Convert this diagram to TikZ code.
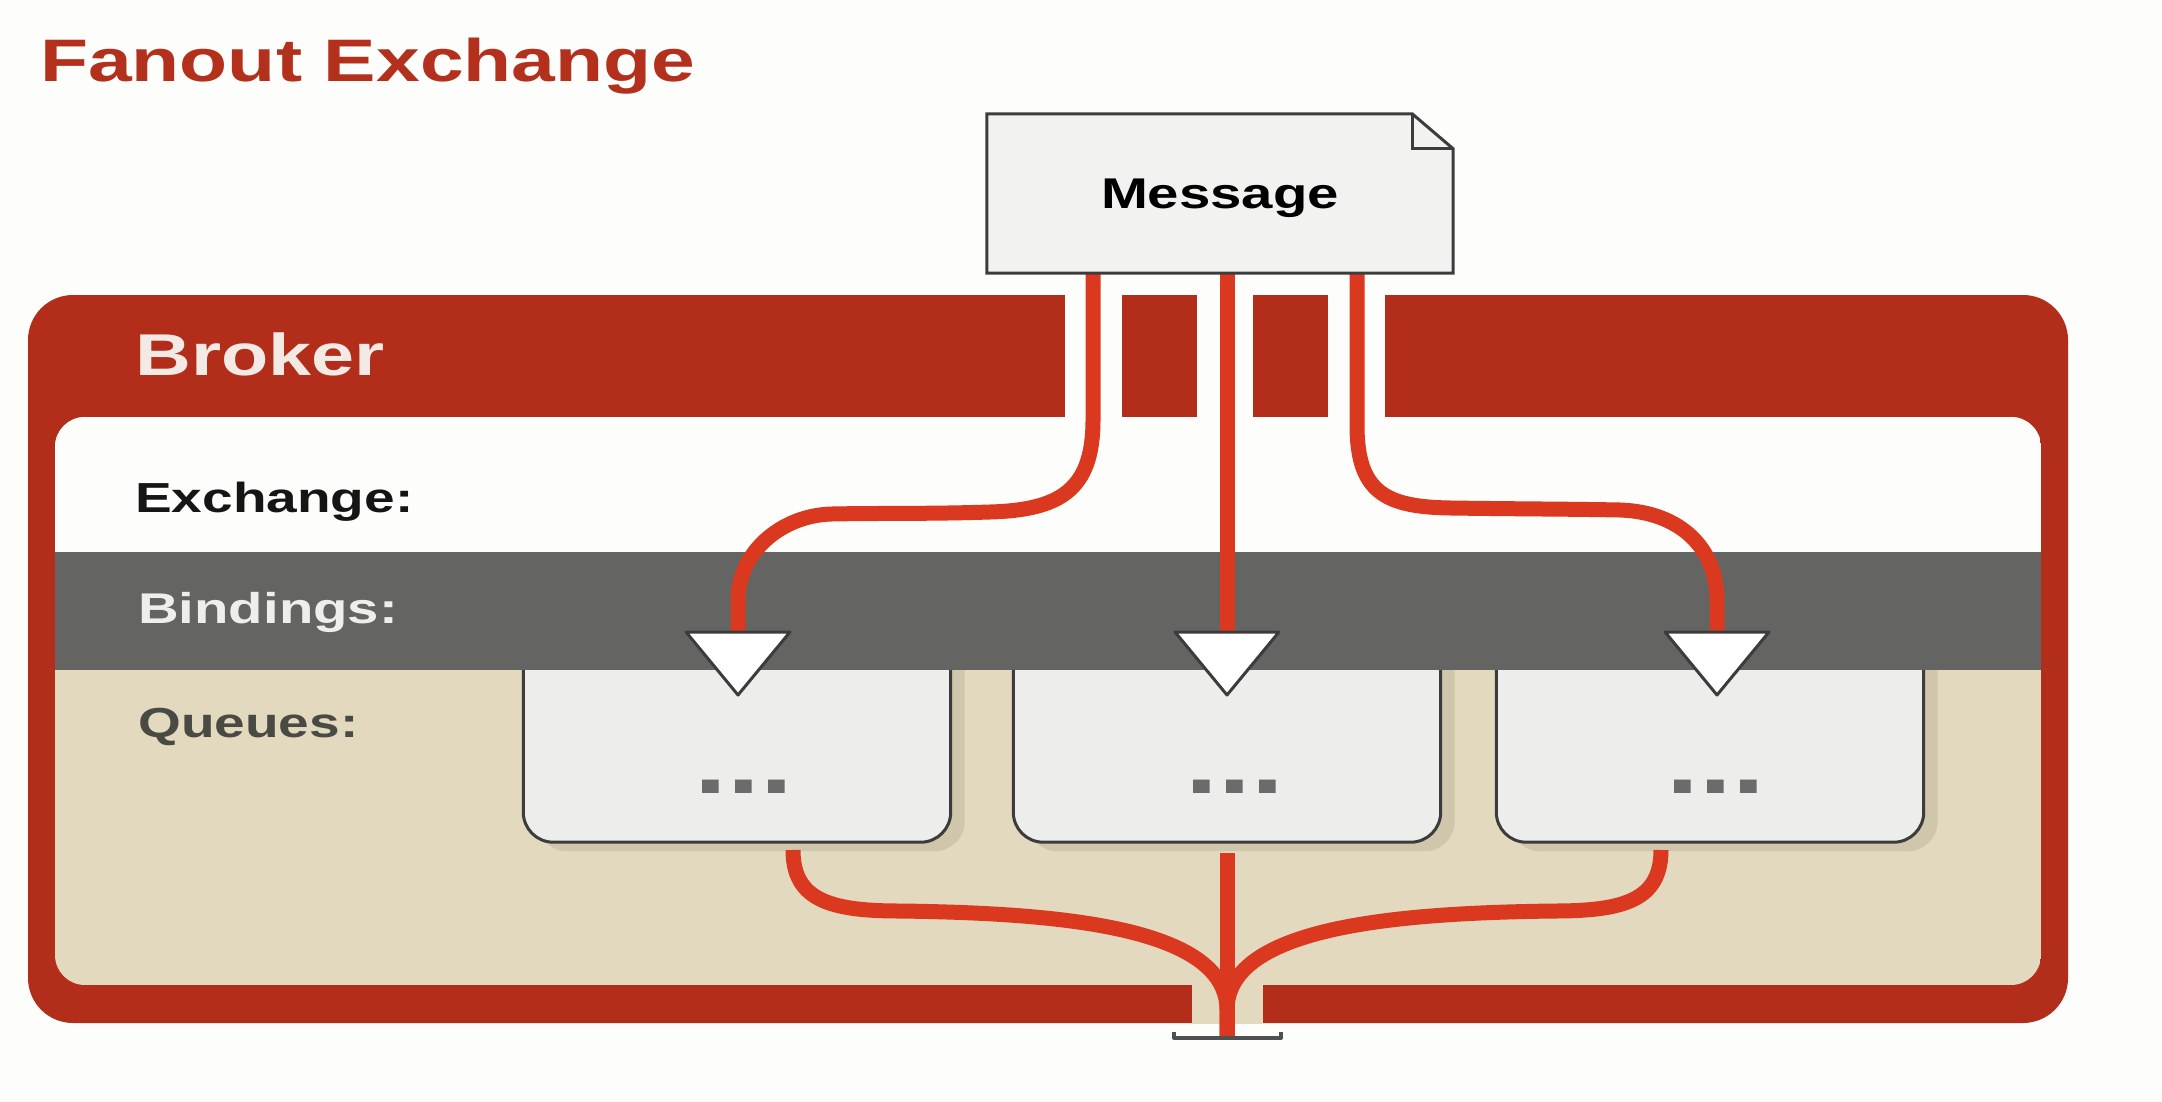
\documentclass[tikz,border=0pt]{standalone}
\usepackage{fontspec}
\setmainfont{Liberation Sans}
\usepackage{graphicx}
\usetikzlibrary{calc}
\definecolor{bg}{HTML}{FDFDFB}
\definecolor{brokerred}{HTML}{B22E1A}
\definecolor{flowred}{HTML}{DA3920}
\definecolor{titlered}{HTML}{B3301C}
\definecolor{tanfill}{HTML}{E2D9BE}
\definecolor{bandgray}{HTML}{646563}
\definecolor{qfill}{HTML}{EDEDEB}
\definecolor{qborder}{HTML}{3C3C3C}
\definecolor{shadowtan}{HTML}{CFC6AB}
\definecolor{msgfill}{HTML}{F2F3F1}
\definecolor{dotgray}{HTML}{6B6B6B}
\definecolor{brokertext}{HTML}{F3E9E5}
\definecolor{bindtext}{HTML}{EEEEEC}
\definecolor{queuetext}{HTML}{4A4A45}
\definecolor{exchtext}{HTML}{151515}
\newcommand\stretchtxt[1]{\scalebox{1.31}[1]{#1}}
\begin{document}
\begin{tikzpicture}[x=1pt,y=-1pt,
  lbl/.style={anchor=base west, inner sep=0pt},
  qnode/.style={draw=none, inner sep=0pt, minimum width=427pt, minimum height=242pt},
  qstyle/.style={fill=qfill, draw=qborder, line width=3pt, rounded corners=30pt},
  msgnode/.style={draw=none, inner sep=0pt, minimum width=466pt, minimum height=159pt},
  msgstyle/.style={fill=msgfill, draw=qborder, line width=3pt},
  tristyle/.style={fill=white, draw=qborder, line width=3pt, line join=round},
  flow/.style={draw=flowred, line width=15pt, line join=round},
  dotstext/.style={anchor=base, inner sep=0pt, text=dotgray, font=\bfseries\fontsize{90}{90}\selectfont},
  capline/.style={draw=qborder!90, line width=4pt, line join=round}
]
\useasboundingbox (0,0) rectangle (2162,1102);
\fill[bg] (0,0) rectangle (2162,1102);

% broker frame
\fill[brokerred, rounded corners=45pt] (28,295) rectangle (2068,1023);
\fill[bg] (1065,290) rectangle (1122,420);
\fill[bg] (1197,290) rectangle (1253,420);
\fill[bg] (1328,290) rectangle (1385,420);

% inner panel
\begin{scope}
  \clip[rounded corners=30pt] (55,417) rectangle (2041,985);
  \fill[tanfill] (55,417) rectangle (2041,985);
  \fill[bg] (55,417) rectangle (2041,552);
  \node[qnode] (q1) at (737,721) {};
  \node[qnode] (q2) at (1227,721) {};
  \node[qnode] (q3) at (1710,721) {};
  \foreach \q in {q1,q2,q3}{
    \fill[shadowtan, rounded corners=30pt] ($(\q.north west)+(14,0)$) -- ($(\q.south west)+(14,9)$) -- ($(\q.south east)+(14,9)$) -- ($(\q.north east)+(14,0)$) -- cycle;
    \filldraw[qstyle] (\q.north west) -- (\q.south west) -- (\q.south east) -- (\q.north east);
  }
  \fill[bandgray] (55,552) rectangle (2041,670);
\end{scope}
\fill[tanfill] (1192,980) rectangle (1263,1024);

% queue contents
\node[dotstext] (d1) at (744,793) {\stretchtxt{...}};
\node[dotstext] (d2) at (1235,793) {\stretchtxt{...}};
\node[dotstext] (d3) at (1716,793) {\stretchtxt{...}};

% message node and connector points
\node[msgnode] (msg) at (1220,193.5) {};
\coordinate (m1) at (1093,273);
\coordinate (m2) at (1227,273);
\coordinate (m3) at (1357,273);
\coordinate (t1) at (738,632);
\coordinate (t2) at (1227,632);
\coordinate (t3) at (1717,632);
\coordinate (b1) at (793,850);
\coordinate (b2) at (1227,853);
\coordinate (b3) at (1661,850);
\coordinate (exit) at (1227,1038);

% flows from message to bindings
\draw[flow] (m1) -- ++(0,147) .. controls +(0,70) and (1060,510) .. (990,512)
  .. controls (930,514) and (880,513) .. (832,514)
  .. controls (782,515) and (738,552) .. (738,600) -- (t1);
\draw[flow] (m2) -- (t2);
\draw[flow] (m3) -- ++(0,152) .. controls +(0,67) and (1385,507) .. (1450,508)
  .. controls (1520,509) and (1570,509) .. (1620,510)
  .. controls (1680,512) and (1717,548) .. (1717,600) -- (t3);

% flows from queues out
\draw[flow] (b1) .. controls (793,900) and (830,911) .. (900,911)
  .. controls (1050,913) and (1227,925) .. (1227,1010) -- (exit);
\draw[flow] (b3) .. controls (1661,900) and (1624,911) .. (1554,911)
  .. controls (1404,913) and (1227,925) .. (1227,1010) -- (exit);
\draw[flow] (b2) -- (exit);
\draw[capline] ($(exit)+(-53,-6)$) -- ($(exit)+(-53,0)$) -- ($(exit)+(54,0)$) -- ($(exit)+(54,-6)$);

% message box
\filldraw[msgstyle] (msg.north west) -- ($(msg.north east)+(-41,0)$) -- ($(msg.north east)+(0,35)$) -- (msg.south east) -- (msg.south west) -- cycle;
\draw[msgstyle, fill=none] ($(msg.north east)+(-41,0)$) -- ($(msg.north east)+(-41,35)$) -- ($(msg.north east)+(0,35)$);
\node[inner sep=0pt, text depth=0pt, text=black, font=\bfseries\fontsize{43}{43}\selectfont] (msgtext) at (msg.center) {\stretchtxt{Message}};

% binding triangles
\foreach \t in {t1,t2,t3}{
  \filldraw[tristyle] ($(\t)+(-52,0)$) -- ($(\t)+(52,0)$) -- ($(\t)+(0,63)$) -- cycle;
}

% labels
\node[lbl, text=titlered, font=\bfseries\fontsize{60}{60}\selectfont] (title) at (40,82) {\stretchtxt{Fanout Exchange}};
\node[lbl, text=brokertext, font=\bfseries\fontsize{59}{59}\selectfont] (broker) at (135,375) {\stretchtxt{Broker}};
\node[lbl, text=exchtext, font=\bfseries\fontsize{42}{42}\selectfont] (exch) at (135,512) {\stretchtxt{Exchange:}};
\node[lbl, text=bindtext, font=\bfseries\fontsize{43}{43}\selectfont] (bind) at (138,623) {\stretchtxt{Bindings:}};
\node[lbl, text=queuetext, font=\bfseries\fontsize{42}{42}\selectfont] (queues) at (138,737) {\stretchtxt{Queues:}};
\end{tikzpicture}
\end{document}
